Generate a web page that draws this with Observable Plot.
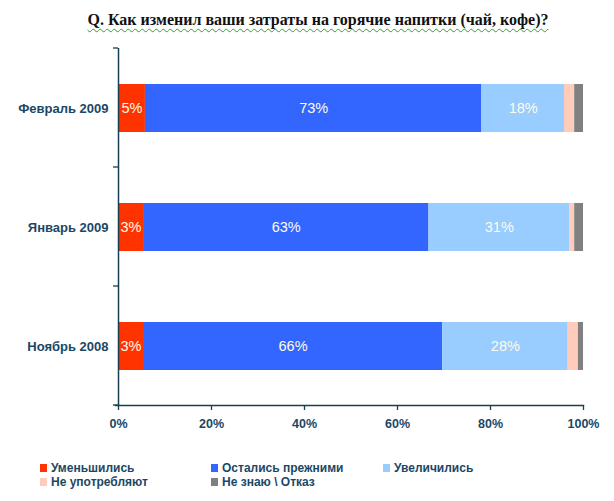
<!DOCTYPE html>
<html>
<head>
<meta charset="utf-8">
<script src="https://cdn.jsdelivr.net/npm/d3@7"></script>
<script src="https://cdn.jsdelivr.net/npm/@observablehq/plot@0.6"></script>
<style>
  body { margin: 0; background: #fff; }
  #wrap { position: relative; width: 614px; height: 501px; overflow: hidden; }
  #title { position: absolute; top: 11px; left: 0; width: 636px; text-align: center;
    font: bold 16px "Liberation Serif", "Times New Roman", serif; color: #111;
    text-decoration: underline wavy #3a9a3a; text-decoration-thickness: 1px; text-underline-offset: 3px; }
  #chart { position: absolute; top: 0; left: 0; }
  #legend { position: absolute; top: 461px; left: 40px; display: grid;
    grid-template-columns: 171px 172px auto; grid-auto-rows: 14px;
    font: bold 12px "Liberation Sans", Arial, sans-serif; color: #1b4766; }
  .item { display: flex; align-items: center; white-space: nowrap; }
  .sw { width: 7px; height: 8px; margin-right: 4px; flex: none; }
</style>
</head>
<body>
<div id="wrap">
  <div id="title">Q. Как изменил ваши затраты на горячие напитки (чай, кофе)?</div>
  <div id="chart"></div>
  <div id="legend"></div>
</div>
<script>
const categories = ["Февраль 2009", "Январь 2009", "Ноябрь 2008"];
const seriesNames = ["Уменьшились", "Остались прежними", "Увеличились", "Не употребляют", "Не знаю \\ Отказ"];
const decreased = [5.8, 5.4, 5.4];
const unchanged = [72.5, 61.5, 64.5];
const increased = [17.8, 30.3, 27.1];
const notUsing = [2.2, 1.1, 2.2];
const dontKnow = [1.9, 1.9, 1.1];
const decreasedLabels = ["5%", "3%", "3%"];
const unchangedLabels = ["73%", "63%", "66%"];
const increasedLabels = ["18%", "31%", "28%"];
const xTicks = [0, 0.2, 0.4, 0.6, 0.8, 1];
const legendOrder = [0, 1, 2, 3, 4];

const colors = ["#FF3300", "#3366FF", "#99CCFF", "#FFCCBB", "#808080"];
const ink = "#1b4766";
const axisInk = "#173f4f";

const seriesValues = [decreased, unchanged, increased, notUsing, dontKnow];
const seriesLabels = [decreasedLabels, unchangedLabels, increasedLabels, [], []];
const rows = [];
categories.forEach((c, i) => seriesNames.forEach((s, j) => {
  rows.push({cat: c, series: s, value: seriesValues[j][i], label: seriesLabels[j][i] ?? ""});
}));

function boundaryTicks(index, scales, values, dimensions) {
  const y = scales.y;
  const step = y(categories[1]) - y(categories[0]);
  const g = d3.create("svg:g").attr("stroke", axisInk).attr("stroke-width", 1.3);
  for (let k = 0; k <= categories.length; k++) {
    const yy = dimensions.marginTop + k * step;
    g.append("line").attr("x1", dimensions.marginLeft - 5).attr("x2", dimensions.marginLeft)
      .attr("y1", yy).attr("y2", yy);
  }
  return g.node();
}

const chart = Plot.plot({
  width: 614,
  height: 440,
  marginLeft: 118,
  marginRight: 31,
  marginTop: 48,
  marginBottom: 35,
  x: {domain: [0, 1], label: null},
  y: {domain: categories, paddingInner: 0.6, paddingOuter: 0.3, label: null},
  color: {domain: seriesNames, range: colors},
  style: {fontFamily: "'Liberation Sans', Arial, sans-serif", background: "transparent", overflow: "visible"},
  marks: [
    Plot.barX(rows, Plot.stackX({x: "value", y: "cat", fill: "series", offset: "normalize", order: null})),
    Plot.text(rows, Plot.stackX({x: "value", y: "cat", z: "series", text: "label", offset: "normalize", order: null,
      fill: "#fffbea", fontSize: 14.5})),
    Plot.axisX({ticks: xTicks, tickFormat: d3.format(".0%"), tickSize: 5, tickPadding: 9, color: ink,
      stroke: axisInk, strokeWidth: 1.3, fontWeight: "bold", fontSize: 12.5, label: null}),
    Plot.axisY({tickSize: 0, tickPadding: 10, color: ink, fontWeight: "bold", fontSize: 13, label: null}),
    Plot.ruleX([0], {stroke: axisInk, strokeWidth: 1.5}),
    Plot.frame({anchor: "bottom", stroke: axisInk, strokeWidth: 1.3, insetLeft: -3}),
    boundaryTicks
  ]
});
document.getElementById("chart").appendChild(chart);

const legend = document.getElementById("legend");
legendOrder.forEach(j => {
  const it = document.createElement("div");
  it.className = "item";
  const sw = document.createElement("span");
  sw.className = "sw";
  sw.style.background = colors[j];
  it.appendChild(sw);
  it.appendChild(document.createTextNode(seriesNames[j]));
  legend.appendChild(it);
});
</script>
</body>
</html>
